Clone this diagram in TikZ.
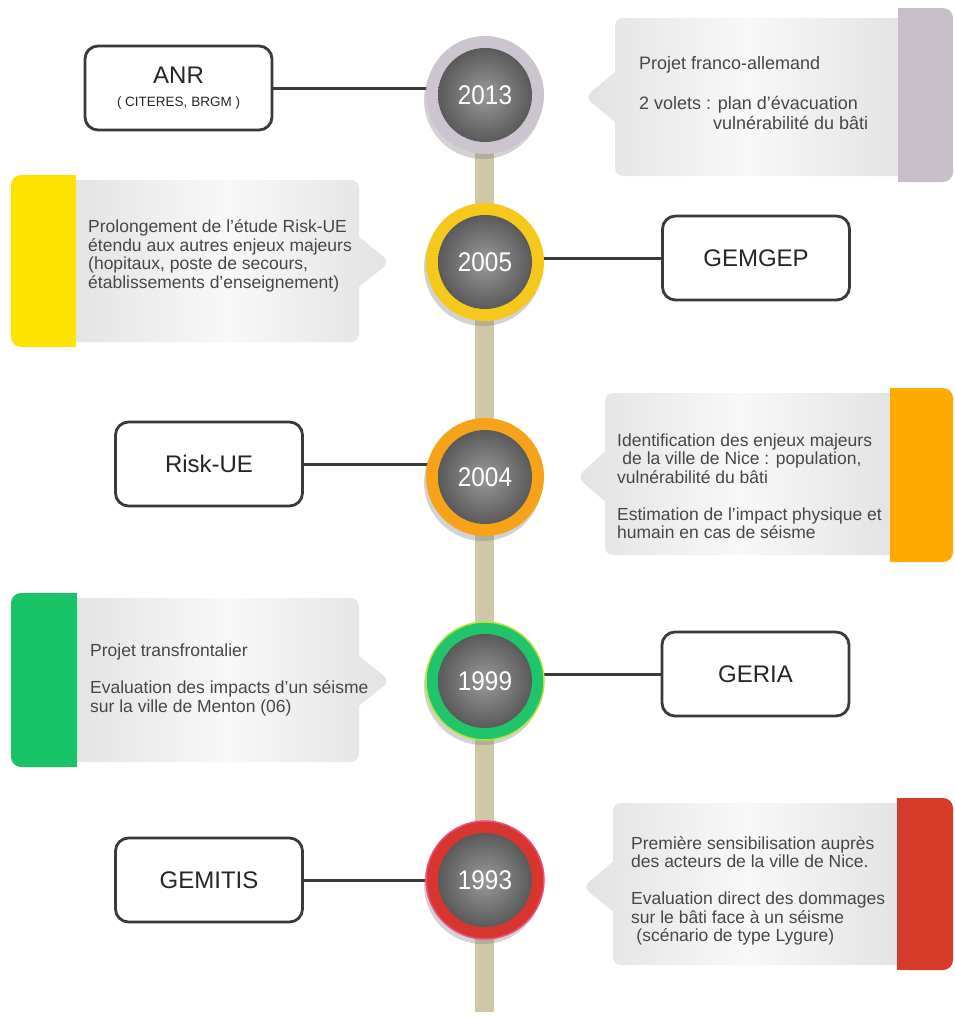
\documentclass[tikz,border=0pt]{standalone}
\usepackage{fontspec}
\setmainfont{Liberation Sans}
\newfontfamily\yearfont[FakeStretch=0.9]{Liberation Sans}
\usetikzlibrary{shapes.callouts,shadows}

\begin{document}
\begin{tikzpicture}[x=1pt,y=-1pt,
  yearring/.style={circle, minimum size=118pt, inner sep=0pt, text=white,
    font={\yearfont\fontsize{27}{27}\selectfont},
    drop shadow={opacity=0.35, shadow xshift=-2pt, shadow yshift=-5pt},
    path picture={\shade[inner color=discLight, outer color=discDark]
      (path picture bounding box.center) circle[radius=47pt];}},
  namebox/.style={draw=lineGray, line width=2.8pt, rounded corners=13pt, fill=white,
    minimum width=187pt, minimum height=84pt, inner sep=0pt, align=center,
    text=black!85, font=\fontsize{24}{26}\selectfont},
  infobox/.style={rectangle callout, rounded corners=8pt, callout pointer width=50pt,
    inner sep=0pt, shading=axis, shading angle=90, left color=boxShade, right color=boxShade, middle color=boxLight},
  infotext/.style={anchor=west, inner sep=0pt, align=left, text=textGray,
    font=\fontsize{17.5}{18.5}\selectfont},
  link/.style={draw=lineGray, line width=3pt},
  spine/.style={draw=spineTan, line width=19pt}]
% Colors define
\definecolor{ringLilac}{HTML}{CCC4CF}
\definecolor{ringYellow}{HTML}{F7C81C}
\definecolor{ringOrange}{HTML}{F6A31A}
\definecolor{ringGreen}{HTML}{1FC46B}
\definecolor{ringGreenEdge}{HTML}{B9E23A}
\definecolor{ringRed}{HTML}{D8352F}
\definecolor{ringRedEdge}{HTML}{E8508A}
\definecolor{tabLilac}{HTML}{C8BEC9}
\definecolor{tabYellow}{HTML}{FFE300}
\definecolor{tabOrange}{HTML}{FFAA00}
\definecolor{tabGreen}{HTML}{17C468}
\definecolor{tabRed}{HTML}{D63B29}
\definecolor{spineTan}{HTML}{CFC7A6}
\definecolor{discLight}{HTML}{999999}
\definecolor{discDark}{HTML}{4A4A4A}
\definecolor{boxShade}{HTML}{E2E2E4}
\definecolor{boxLight}{HTML}{F8F8F8}
\definecolor{textGray}{HTML}{474747}
\definecolor{lineGray}{HTML}{3A3A3A}

% Page
\useasboundingbox (0,0) rectangle (955,1017);
\fill[white] (0,0) rectangle (955,1017);

% Important positions
\coordinate (p2013) at (485,95);
\coordinate (p2005) at (485,262);
\coordinate (p2004) at (485,477);
\coordinate (p1999) at (485,681);
\coordinate (p1993) at (485,880);
\coordinate (spineTop) at (484,120);
\coordinate (spineEnd) at (484,1012);

% Time line
\draw[spine] (spineTop) -- (spineEnd);

% Grey callouts
\node[infobox, minimum width=295pt, minimum height=158pt, callout absolute pointer={(585,97)}] (c2013) at (762.5,97) {};
\node[infobox, minimum width=295pt, minimum height=162pt, callout absolute pointer={(390,262)}] (c2005) at (211.5,261) {};
\node[infobox, minimum width=297pt, minimum height=162pt, callout absolute pointer={(577,477)}] (c2004) at (753.5,474) {};
\node[infobox, minimum width=295pt, minimum height=164pt, callout absolute pointer={(390,681)}] (c1999) at (211.5,680) {};
\node[infobox, minimum width=296pt, minimum height=162pt, callout absolute pointer={(583,887)}] (c1993) at (761,884) {};

% Colored tabs
\foreach \xa/\ya/\yb/\col in {898/8/182/tabLilac, 890/388/562/tabOrange, 897/798/970/tabRed}{
  \fill[\col, rounded corners=10pt] (\xa,\ya) rectangle (953,\yb);
  \fill[\col] (\xa,\ya) rectangle (\xa+20,\yb);
}
\foreach \xb/\ya/\yb/\col in {76/175/347/tabYellow, 77/593/767/tabGreen}{
  \fill[\col, rounded corners=10pt] (11,\ya) rectangle (\xb,\yb);
  \fill[\col] (\xb-20,\ya) rectangle (\xb,\yb);
}

% Callout texts
\node[infotext, font=\fontsize{18}{20}\selectfont] (t2013) at (639,93)
  {Projet franco-allemand\\[20pt]2 volets : plan d'évacuation\\\hspace*{4.1em}vulnérabilité du bâti};
\node[infotext] (t2005) at (88,256)
  {Prolongement de l'étude Risk-UE\\étendu aux autres enjeux majeurs\\(hopitaux, poste de secours,\\établissements d'enseignement)};
\node[infotext] (t2004) at (617,486)
  {Identification des enjeux majeurs\\\hspace*{0.3em}de la ville de Nice : population,\\vulnérabilité du bâti\\[18.5pt]Estimation de l'impact physique et\\humain en cas de séisme};
\node[infotext] (t1999) at (90,680)
  {Projet transfrontalier\\[18.5pt]Evaluation des impacts d'un séisme\\sur la ville de Menton (06)};
\node[infotext] (t1993) at (631,891)
  {Première sensibilisation auprès\\des acteurs de la ville de Nice.\\[18.5pt]Evaluation direct des dommages\\sur le bâti face à un séisme\\\hspace*{0.3em}(scénario de type Lygure)};

% Project boxes
\node[namebox] (anr) at (178.5,88) {ANR\\[-3pt]{\fontsize{13.5}{15}\selectfont ( CITERES, BRGM )}};
\node[namebox] (gemgep) at (756,258) {GEMGEP};
\node[namebox] (riskue) at (209,464) {Risk-UE};
\node[namebox] (geria) at (755.5,674) {GERIA};
\node[namebox] (gemitis) at (209,880) {GEMITIS};

% Links
\draw[link] (anr) -- (anr -| p2013);
\draw[link] (gemgep) -- (gemgep -| p2005);
\draw[link] (riskue) -- (riskue -| p2004);
\draw[link] (geria) -- (geria -| p1999);
\draw[link] (gemitis) -- (gemitis -| p1993);

% Year circles
\node[yearring, fill=ringLilac] (y2013) at (p2013) {2013};
\node[yearring, fill=ringYellow] (y2005) at (p2005) {2005};
\node[yearring, fill=ringOrange] (y2004) at (p2004) {2004};
\node[yearring, fill=ringGreen, draw=ringGreenEdge, line width=1.5pt] (y1999) at (p1999) {1999};
\node[yearring, fill=ringRed, draw=ringRedEdge, line width=1.5pt] (y1993) at (p1993) {1993};
\end{tikzpicture}
\end{document}
